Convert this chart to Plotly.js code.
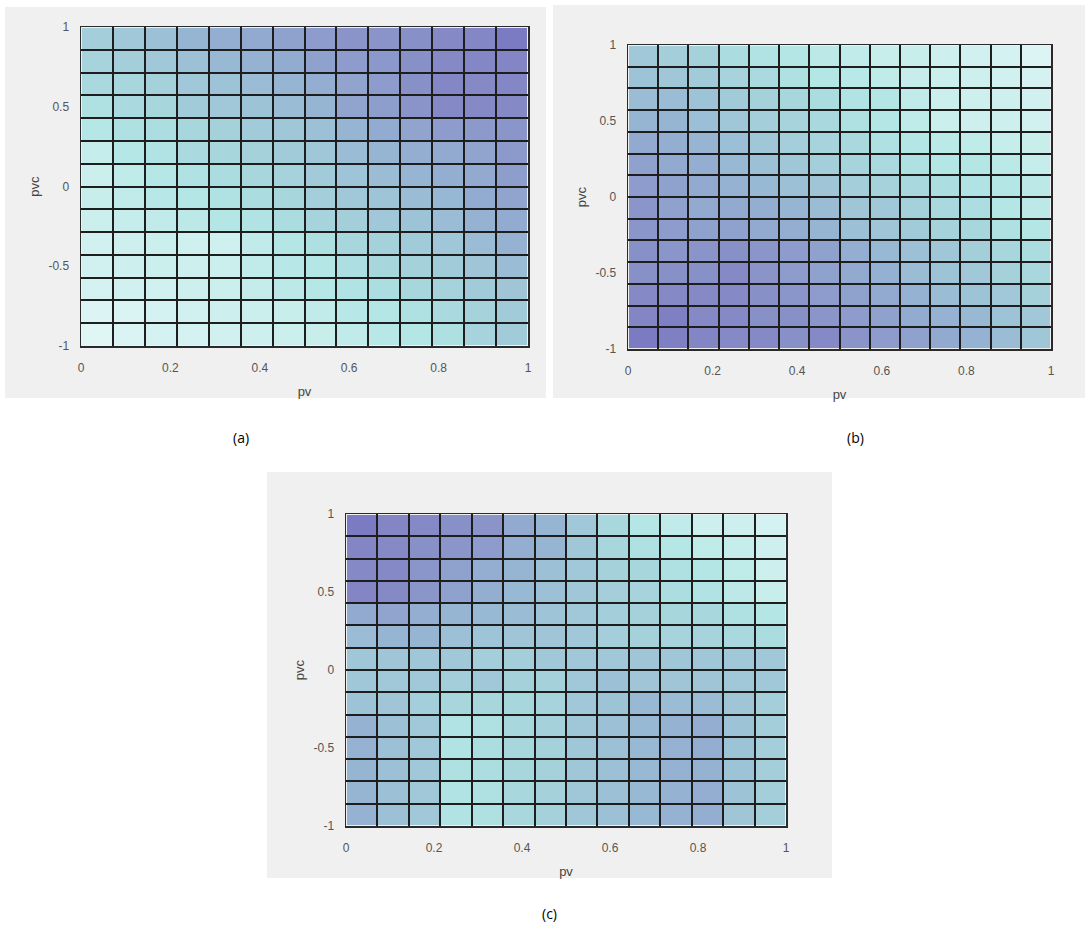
<!DOCTYPE html>
<html>
<head>
<meta charset="utf-8">
<script src="https://cdn.plot.ly/plotly-3.0.1.min.js"></script>
<style>
  html, body { margin: 0; padding: 0; background: #ffffff; }
  #chart { width: 1085px; height: 927px; }
</style>
</head>
<body>
<div id="chart"></div>
<script>
// Surface level on a 14 x 14 grid over pv in [0, 1] and pvc in [-1, 1].
// Each panel lists its rows from pvc = 1 (top) down to pvc = -1 (bottom).
const nCells = 14;

const panelA = [
  [48, 52, 58, 66, 70, 73, 77, 80, 84, 84, 86, 90, 91, 100],
  [44, 48, 52, 58, 63, 68, 72, 77, 80, 82, 86, 90, 91, 92],
  [40, 42, 46, 52, 56, 60, 66, 70, 76, 80, 86, 91, 90, 91],
  [34, 39, 42, 50, 52, 56, 60, 66, 76, 79, 84, 90, 90, 90],
  [29, 34, 37, 42, 46, 50, 53, 58, 66, 72, 76, 80, 81, 83],
  [20, 29, 32, 39, 42, 46, 50, 53, 60, 66, 70, 73, 76, 81],
  [16, 23, 29, 33, 38, 42, 45, 50, 55, 60, 66, 70, 73, 79],
  [18, 22, 28, 30, 33, 38, 42, 48, 52, 55, 60, 64, 72, 76],
  [16, 20, 22, 25, 30, 32, 38, 44, 48, 52, 56, 60, 68, 72],
  [13, 15, 16, 14, 14, 22, 30, 35, 42, 46, 50, 53, 60, 68],
  [13, 15, 16, 15, 17, 22, 28, 30, 36, 42, 46, 50, 54, 60],
  [11, 12, 13, 15, 16, 21, 25, 29, 32, 37, 42, 45, 50, 54],
  [5, 6, 11, 12, 15, 16, 18, 22, 28, 30, 34, 39, 45, 50],
  [3, 6, 10, 11, 13, 15, 16, 18, 22, 28, 30, 35, 44, 50]
];

const panelB = [
  [52, 48, 46, 38, 32, 30, 25, 22, 18, 18, 15, 12, 11, 5],
  [56, 53, 50, 44, 39, 34, 30, 27, 23, 19, 16, 15, 13, 11],
  [61, 60, 56, 50, 46, 42, 38, 32, 30, 22, 16, 15, 15, 12],
  [66, 66, 59, 53, 48, 44, 40, 34, 30, 23, 16, 15, 15, 13],
  [73, 70, 66, 59, 53, 48, 44, 40, 34, 30, 26, 23, 20, 18],
  [77, 73, 70, 63, 58, 53, 48, 44, 39, 34, 30, 30, 26, 20],
  [80, 77, 73, 68, 63, 58, 54, 48, 45, 40, 37, 32, 30, 25],
  [83, 77, 73, 73, 70, 66, 60, 54, 52, 46, 40, 37, 30, 25],
  [83, 80, 77, 77, 73, 70, 66, 58, 54, 50, 45, 42, 34, 30],
  [86, 83, 84, 86, 83, 80, 77, 70, 63, 58, 53, 48, 42, 38],
  [86, 86, 86, 90, 84, 80, 77, 73, 69, 61, 56, 52, 46, 41],
  [90, 90, 90, 90, 86, 83, 80, 77, 73, 68, 60, 56, 52, 46],
  [92, 96, 90, 90, 86, 86, 83, 80, 77, 72, 68, 63, 56, 52],
  [100, 96, 92, 90, 90, 86, 90, 84, 80, 77, 73, 68, 60, 53]
];

const panelC = [
  [100, 92, 90, 86, 84, 73, 66, 52, 41, 30, 22, 15, 15, 11],
  [92, 90, 86, 83, 80, 70, 66, 53, 42, 34, 29, 23, 20, 15],
  [90, 90, 83, 77, 70, 66, 58, 52, 46, 42, 34, 30, 23, 15],
  [92, 90, 83, 77, 70, 63, 58, 53, 48, 44, 37, 32, 25, 18],
  [73, 76, 70, 66, 63, 60, 55, 52, 48, 46, 42, 41, 34, 30],
  [60, 66, 66, 58, 55, 54, 54, 52, 48, 46, 44, 44, 40, 38],
  [53, 54, 53, 52, 48, 48, 52, 52, 52, 54, 53, 53, 52, 52],
  [53, 52, 52, 48, 52, 46, 46, 52, 58, 54, 54, 54, 52, 52],
  [56, 54, 48, 42, 42, 42, 44, 52, 56, 63, 60, 60, 54, 48],
  [68, 58, 52, 32, 34, 41, 46, 53, 58, 63, 68, 70, 56, 48],
  [68, 58, 52, 32, 37, 42, 46, 53, 58, 63, 68, 70, 56, 48],
  [66, 58, 52, 34, 37, 42, 46, 53, 58, 63, 68, 68, 56, 48],
  [66, 58, 52, 32, 34, 41, 46, 53, 58, 63, 68, 70, 56, 48],
  [68, 58, 52, 32, 34, 41, 46, 53, 58, 63, 68, 70, 54, 48]
];

const pvTicks = [0, 0.2, 0.4, 0.6, 0.8, 1];
const pvTickText = ['0', '0.2', '0.4', '0.6', '0.8', '1'];
const pvcTicks = [-1, -0.5, 0, 0.5, 1];
const pvcTickText = ['-1', '-0.5', '0', '0.5', '1'];
const captions = ['(a)', '(b)', '(c)'];

// Grid edges of the surface patches
const pvEdges = [], pvcEdges = [];
for (let i = 0; i <= nCells; i++) {
  pvEdges.push(i / nCells);
  pvcEdges.push(-1 + 2 * i / nCells);
}

// Light cyan -> cyan -> steel blue -> violet
const shade = [
  [0.00, '#e3f7f6'],
  [0.11, '#d3f2f1'],
  [0.18, '#c8eeec'],
  [0.30, '#b3e6e5'],
  [0.40, '#a9d9de'],
  [0.52, '#a0c8d8'],
  [0.66, '#96b5d3'],
  [0.77, '#8fa2ce'],
  [0.86, '#8890c8'],
  [0.92, '#8385c5'],
  [1.00, '#7b7bc3']
];

function surfaceTrace(rows, xa, ya) {
  return {
    type: 'heatmap',
    x: pvEdges,
    y: pvcEdges,
    z: rows.slice().reverse(),
    zmin: 0, zmax: 100,
    colorscale: shade,
    showscale: false,
    xgap: 2, ygap: 2,
    xaxis: xa, yaxis: ya,
    hoverinfo: 'x+y+z'
  };
}

const W = 1085, H = 927;
const px = v => v / W;
const py = v => 1 - v / H;

const tickFont = { family: 'Liberation Sans, Arial, sans-serif', size: 12, color: '#555555' };
const titleFont = { family: 'Liberation Sans, Arial, sans-serif', size: 13, color: '#444444' };
const edgeColor = '#1e1e1e';

function xAxis(left, right, anchor) {
  return {
    domain: [px(left), px(right)], anchor: anchor, range: [0, 1],
    tickvals: pvTicks, ticktext: pvTickText, tickfont: tickFont,
    ticks: '', ticklabelstandoff: 10,
    showgrid: false, zeroline: false,
    minor: { tickvals: pvEdges, showgrid: true, gridcolor: edgeColor, gridwidth: 2, ticks: '' },
    showline: true, mirror: true, linecolor: '#2a2a2a', linewidth: 1.5,
    title: { text: 'pv', font: titleFont, standoff: 13 },
    fixedrange: true
  };
}
function yAxis(top, bottom, anchor) {
  return {
    domain: [py(bottom), py(top)], anchor: anchor, range: [-1, 1],
    tickvals: pvcTicks, ticktext: pvcTickText, tickfont: tickFont,
    ticks: '', ticklabelstandoff: 8,
    showgrid: false, zeroline: false,
    minor: { tickvals: pvcEdges, showgrid: true, gridcolor: edgeColor, gridwidth: 2, ticks: '' },
    showline: true, mirror: true, linecolor: '#2a2a2a', linewidth: 1.5,
    title: { text: 'pvc', font: titleFont, standoff: 6 },
    fixedrange: true
  };
}

function panelBox(x0, y0, x1, y1) {
  return {
    type: 'rect', xref: 'paper', yref: 'paper', layer: 'below',
    x0: px(x0), x1: px(x1), y0: py(y1), y1: py(y0),
    fillcolor: '#f0f0f0', line: { width: 0 }
  };
}

const data = [
  surfaceTrace(panelA, 'x', 'y'),
  surfaceTrace(panelB, 'x2', 'y2'),
  surfaceTrace(panelC, 'x3', 'y3')
];

const captionFont = { family: 'Open Sans, Liberation Sans, sans-serif', size: 14, color: '#000000' };
const captionPos = [[241, 438], [855, 438], [549, 913]];

const layout = {
  width: W, height: H,
  margin: { l: 0, r: 0, t: 0, b: 0 },
  paper_bgcolor: '#ffffff',
  plot_bgcolor: edgeColor,
  showlegend: false,
  xaxis: xAxis(81, 528, 'y'),
  yaxis: yAxis(27, 346, 'x'),
  xaxis2: xAxis(628, 1051, 'y2'),
  yaxis2: yAxis(45, 349, 'x2'),
  xaxis3: xAxis(346, 786, 'y3'),
  yaxis3: yAxis(514, 826, 'x3'),
  shapes: [
    panelBox(5, 7, 546, 398),
    panelBox(553, 5, 1085, 398),
    panelBox(267, 472, 832, 878)
  ],
  annotations: captions.map((t, i) => ({
    text: t, xref: 'paper', yref: 'paper',
    x: px(captionPos[i][0]), y: py(captionPos[i][1]),
    xanchor: 'center', yanchor: 'middle', showarrow: false,
    font: captionFont
  }))
};

Plotly.newPlot('chart', data, layout, { displayModeBar: false, staticPlot: true });
</script>
</body>
</html>
